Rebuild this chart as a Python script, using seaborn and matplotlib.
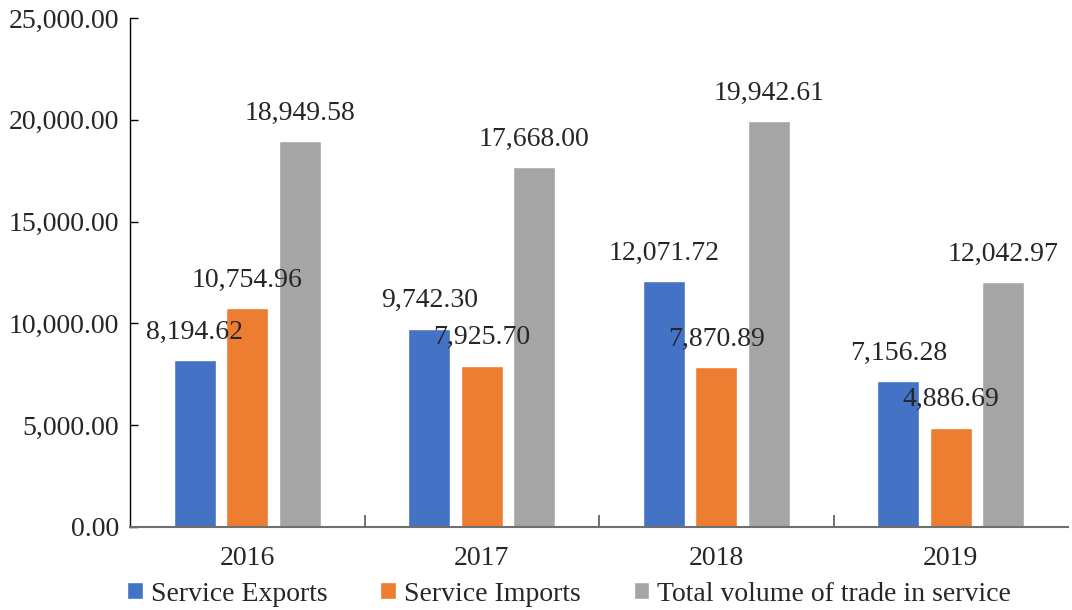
import matplotlib
matplotlib.use('Agg')
import matplotlib.pyplot as plt
import seaborn as sns
import pandas as pd

# Dados
anos = ['2016', '2017', '2018', '2019']
exportacoes = [8194.62, 9742.30, 12071.72, 7156.28]
importacoes = [10754.96, 7925.70, 7870.89, 4886.69]
total = [18949.58, 17668.00, 19942.61, 12042.97]
series = ['Service Exports', 'Service Imports', 'Total volume of trade in service']
cores = ['#4472C4', '#ED7D31', '#A5A5A5']

df = pd.DataFrame({
    'Ano': anos * 3,
    'Serie': [s for s in series for _ in anos],
    'Valor': exportacoes + importacoes + total,
})

sns.set_style('white')
plt.rcParams['font.family'] = ['Liberation Serif', 'DejaVu Serif']

fig = plt.figure(figsize=(10.72, 6.1), dpi=100)
ax = fig.add_axes([130 / 1072, 1 - 527 / 610, 938 / 1072, (527 - 18) / 610])

sns.barplot(data=df, x='Ano', y='Valor', hue='Serie', palette=cores,
            width=0.67, gap=0.2, saturation=1, ax=ax, legend=True)

for cont in ax.containers:
    ax.bar_label(cont, fmt='{:,.2f}', padding=11, fontsize=20)

ax.set_xlim(-0.5, 3.5)
ax.set_ylim(0, 25000)
ax.set_yticks(range(0, 25001, 5000))
ax.yaxis.set_major_formatter(matplotlib.ticker.FuncFormatter(lambda v, p: f'{v:,.2f}'))
ax.set_xlabel('')
ax.set_ylabel('')
ax.tick_params(axis='y', direction='in', length=6, width=1, color='black',
               labelsize=20, pad=8, left=True)
ax.tick_params(axis='x', which='major', length=0, labelsize=20, pad=14)
ax.set_xticks([0.5, 1.5, 2.5], minor=True)
ax.tick_params(axis='x', which='minor', direction='in', length=9, width=1.2,
               color='#595959', bottom=True)

for s in ['top', 'right']:
    ax.spines[s].set_visible(False)
ax.spines['left'].set_color('black')
ax.spines['left'].set_linewidth(1)
ax.spines['bottom'].set_color('#6f6f6f')
ax.spines['bottom'].set_linewidth(1.5)

handles, labels = ax.get_legend_handles_labels()
ax.legend_.remove()
fig.legend(handles, labels, loc='center', bbox_to_anchor=(0.531, 0.026),
           ncol=3, frameon=False, fontsize=20, handlelength=0.55, handleheight=0.55,
           handletextpad=0.3, columnspacing=1.9, borderpad=0)

plt.savefig('out.png', dpi=100)
plt.close()
